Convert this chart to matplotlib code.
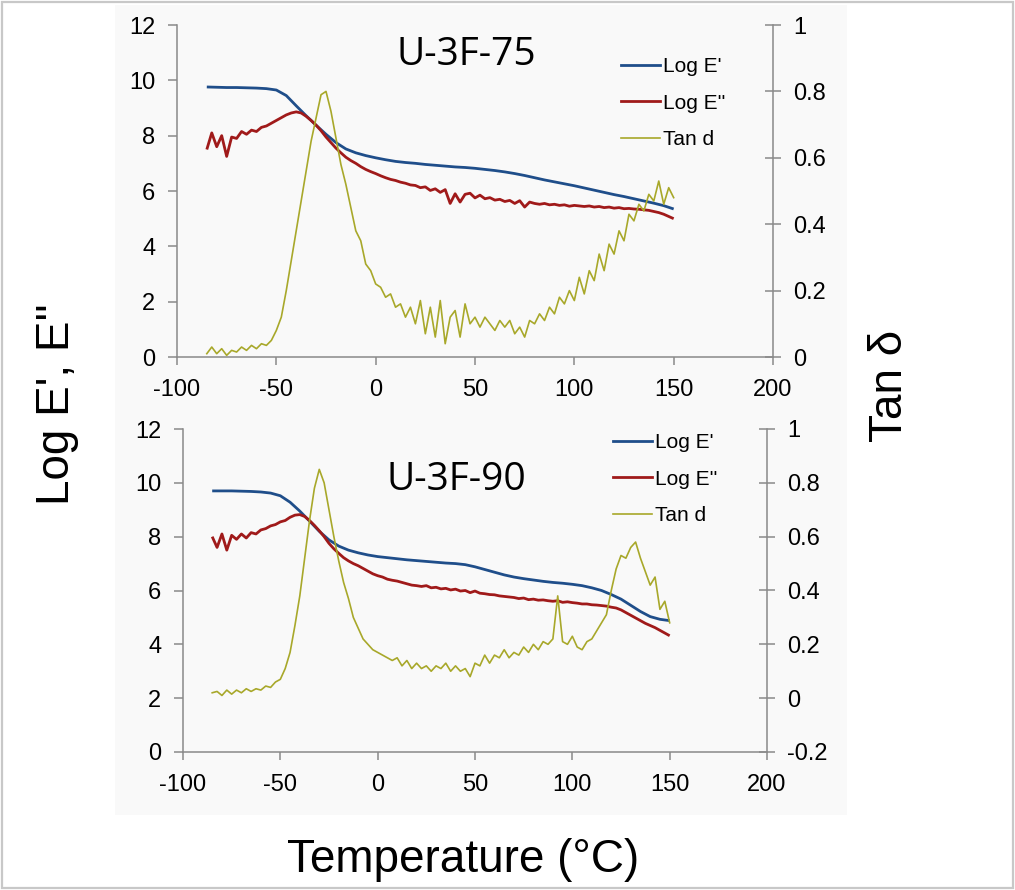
import numpy as np
import matplotlib
matplotlib.use("Agg")
import matplotlib.pyplot as plt
from matplotlib.patches import Rectangle
from matplotlib.lines import Line2D

# ---------------- data ----------------
temp_smooth = np.arange(-85, 150.1, 5.0)     # grid for smooth Log E' curves
temp_fine = np.arange(-85, 150.1, 2.5)       # grid for noisy curves

top_title = "U-3F-75"
bottom_title = "U-3F-90"
series_labels = ["Log E'", "Log E''", "Tan d"]

top_logE1 = [9.76, 9.75, 9.74, 9.74, 9.73, 9.72, 9.70, 9.65, 9.45, 9.08,
             8.72, 8.38, 8.05, 7.75, 7.52, 7.38, 7.28, 7.20, 7.13, 7.07,
             7.03, 7.00, 6.96, 6.93, 6.90, 6.87, 6.85, 6.82, 6.78, 6.74,
             6.69, 6.63, 6.56, 6.48, 6.40, 6.33, 6.26, 6.19, 6.11, 6.03,
             5.95, 5.87, 5.80, 5.72, 5.64, 5.56, 5.47, 5.35]

top_logE2 = [7.50, 8.10, 7.60, 8.00, 7.25, 7.95, 7.90, 8.15, 8.05, 8.20,
             8.15, 8.30, 8.35, 8.45, 8.55, 8.65, 8.75, 8.82, 8.86, 8.82,
             8.70, 8.55, 8.38, 8.18, 7.95, 7.75, 7.55, 7.38, 7.22, 7.10,
             7.00, 6.88, 6.78, 6.70, 6.63, 6.55, 6.48, 6.42, 6.38, 6.32,
             6.28, 6.22, 6.20, 6.12, 6.15, 6.02, 6.08, 5.95, 6.05, 5.55,
             5.90, 5.60, 5.88, 5.92, 5.75, 5.85, 5.72, 5.76, 5.67, 5.70,
             5.62, 5.66, 5.55, 5.65, 5.42, 5.60, 5.55, 5.52, 5.55, 5.50,
             5.52, 5.48, 5.50, 5.45, 5.48, 5.46, 5.44, 5.46, 5.42, 5.44,
             5.40, 5.42, 5.38, 5.40, 5.36, 5.37, 5.35, 5.34, 5.32, 5.30,
             5.26, 5.22, 5.16, 5.08, 5.00]

top_tand = [0.010, 0.030, 0.010, 0.025, 0.005, 0.020, 0.015, 0.030, 0.020, 0.035,
            0.025, 0.040, 0.035, 0.050, 0.080, 0.120, 0.200, 0.290, 0.380, 0.470,
            0.560, 0.650, 0.720, 0.790, 0.800, 0.740, 0.660, 0.580, 0.520, 0.450,
            0.380, 0.350, 0.280, 0.260, 0.220, 0.210, 0.180, 0.190, 0.150, 0.160,
            0.120, 0.150, 0.100, 0.170, 0.070, 0.150, 0.060, 0.170, 0.040, 0.120,
            0.140, 0.060, 0.160, 0.100, 0.120, 0.090, 0.120, 0.100, 0.080, 0.110,
            0.090, 0.110, 0.070, 0.090, 0.060, 0.110, 0.100, 0.130, 0.110, 0.150,
            0.130, 0.180, 0.160, 0.200, 0.170, 0.240, 0.190, 0.260, 0.230, 0.310,
            0.260, 0.340, 0.310, 0.380, 0.350, 0.430, 0.410, 0.460, 0.440, 0.490,
            0.470, 0.530, 0.460, 0.510, 0.480]

bot_logE1 = [9.70, 9.70, 9.70, 9.69, 9.68, 9.66, 9.62, 9.52, 9.28, 8.95,
             8.58, 8.20, 7.88, 7.65, 7.50, 7.40, 7.32, 7.26, 7.22, 7.18,
             7.14, 7.11, 7.08, 7.05, 7.02, 7.00, 6.96, 6.88, 6.78, 6.68,
             6.58, 6.50, 6.44, 6.39, 6.34, 6.30, 6.27, 6.23, 6.18, 6.10,
             6.00, 5.85, 5.68, 5.45, 5.22, 5.03, 4.93, 4.88]

bot_logE2 = [8.00, 7.60, 8.10, 7.50, 8.05, 7.90, 8.10, 7.95, 8.15, 8.10,
             8.25, 8.30, 8.40, 8.45, 8.55, 8.60, 8.72, 8.80, 8.82, 8.75,
             8.60, 8.42, 8.22, 8.00, 7.75, 7.55, 7.38, 7.22, 7.10, 7.00,
             6.92, 6.82, 6.72, 6.62, 6.55, 6.50, 6.42, 6.38, 6.35, 6.30,
             6.25, 6.20, 6.18, 6.15, 6.18, 6.10, 6.12, 6.06, 6.08, 6.02,
             6.05, 5.98, 6.00, 5.92, 5.98, 5.90, 5.88, 5.85, 5.84, 5.80,
             5.78, 5.76, 5.74, 5.70, 5.72, 5.66, 5.68, 5.64, 5.65, 5.62,
             5.60, 5.62, 5.56, 5.58, 5.55, 5.53, 5.50, 5.50, 5.47, 5.46,
             5.44, 5.42, 5.38, 5.35, 5.28, 5.18, 5.08, 4.98, 4.88, 4.78,
             4.70, 4.62, 4.52, 4.42, 4.32]

bot_tand = [0.020, 0.025, 0.010, 0.030, 0.015, 0.030, 0.020, 0.035, 0.025, 0.035,
            0.030, 0.045, 0.040, 0.060, 0.070, 0.110, 0.170, 0.270, 0.380, 0.520,
            0.660, 0.780, 0.850, 0.800, 0.700, 0.600, 0.510, 0.430, 0.370, 0.300,
            0.260, 0.220, 0.200, 0.180, 0.170, 0.160, 0.150, 0.140, 0.150, 0.120,
            0.140, 0.110, 0.130, 0.110, 0.120, 0.100, 0.120, 0.110, 0.130, 0.100,
            0.120, 0.100, 0.110, 0.080, 0.130, 0.120, 0.160, 0.130, 0.160, 0.150,
            0.180, 0.150, 0.170, 0.160, 0.190, 0.170, 0.200, 0.180, 0.210, 0.200,
            0.220, 0.380, 0.210, 0.200, 0.230, 0.190, 0.180, 0.210, 0.220, 0.250,
            0.280, 0.310, 0.400, 0.480, 0.530, 0.520, 0.560, 0.580, 0.520, 0.470,
            0.420, 0.450, 0.330, 0.360, 0.280]

x_ticks = [-100, -50, 0, 50, 100, 150, 200]
left_ticks = [0, 2, 4, 6, 8, 10, 12]
top_right_ticks = [0, 0.2, 0.4, 0.6, 0.8, 1.0]
top_right_labels = ["0", "0.2", "0.4", "0.6", "0.8", "1"]
bot_right_ticks = [-0.2, 0, 0.2, 0.4, 0.6, 0.8, 1.0]
bot_right_labels = ["-0.2", "0", "0.2", "0.4", "0.6", "0.8", "1"]

# ---------------- style ----------------
W, H = 1015, 890
C_BLUE = "#1F4E8A"
C_RED = "#A01A1A"
C_OLIVE = "#A8A82A"
C_SPINE = "#8A8A8A"
SANS = ["Liberation Sans", "DejaVu Sans"]

plt.rcParams["font.family"] = SANS

fig = plt.figure(figsize=(W / 100, H / 100), dpi=100)
fig.patch.set_facecolor("white")

def px(x0, y0, x1, y1):
    return [x0 / W, 1 - y1 / H, (x1 - x0) / W, (y1 - y0) / H]

# faint chart background and outer frame
fig.patches.append(Rectangle((115 / W, 1 - 815 / H), (847 - 115) / W, (815 - 5) / H,
                             transform=fig.transFigure, facecolor="#f9f9f9",
                             edgecolor="none", zorder=-10))
fig.patches.append(Rectangle((2 / W, 2 / H), (W - 4) / W, (H - 4) / H,
                             transform=fig.transFigure, facecolor="none",
                             edgecolor="#c8c8c8", linewidth=1.6, zorder=10))


def panel(rect, e1, e2, td, rticks, rlabels, rlim, title, title_xy, leg_xy):
    ax = fig.add_axes(rect)
    ax.patch.set_visible(False)
    ax2 = ax.twinx()
    ax2.patch.set_visible(False)

    ax.plot(temp_smooth, e1, color=C_BLUE, lw=2.0, zorder=3, solid_capstyle="butt")
    ax.plot(temp_fine, e2, color=C_RED, lw=2.0, zorder=3, solid_capstyle="butt")
    ax2.plot(temp_fine, td, color=C_OLIVE, lw=1.2, zorder=2)

    ax.set_xlim(-100, 200)
    ax.set_ylim(0, 12)
    ax2.set_ylim(*rlim)
    ax.set_xticks(x_ticks)
    ax.set_xticklabels([str(v) for v in x_ticks])
    ax.set_yticks(left_ticks)
    ax.set_yticklabels([str(v) for v in left_ticks])
    ax2.set_yticks(rticks)
    ax2.set_yticklabels(rlabels)

    for a in (ax, ax2):
        a.spines["top"].set_visible(False)
        for s in ("left", "right", "bottom"):
            a.spines[s].set_color(C_SPINE)
            a.spines[s].set_linewidth(1.1)
    ax.spines["right"].set_visible(False)
    ax2.spines["left"].set_visible(False)
    ax2.spines["bottom"].set_visible(False)

    ax.tick_params(axis="x", direction="out", length=6, width=1.1, color=C_SPINE,
                   labelsize=17, pad=10, labelcolor="black")
    ax.tick_params(axis="y", direction="out", length=6.5, width=1.1, color=C_SPINE,
                   labelsize=17, pad=9, labelcolor="black")
    ax2.tick_params(axis="y", direction="inout", length=11, width=1.1, color=C_SPINE,
                    labelsize=17, pad=9, labelcolor="black")

    fig.text(title_xy[0] / W, 1 - title_xy[1] / H, title, fontsize=28,
             family=["Open Sans", "DejaVu Sans"], ha="center", va="center")

    handles = [Line2D([], [], color=C_BLUE, lw=2.0),
               Line2D([], [], color=C_RED, lw=2.0),
               Line2D([], [], color=C_OLIVE, lw=1.2)]
    fig.legend(handles, series_labels, loc="upper left",
               bbox_to_anchor=(leg_xy[0] / W, 1 - leg_xy[1] / H),
               frameon=False, fontsize=15, handlelength=1.85, handletextpad=0.15,
               labelspacing=0.85, borderpad=0, borderaxespad=0)
    return ax, ax2


panel(px(177, 25, 773, 357), top_logE1, top_logE2, top_tand,
      top_right_ticks, top_right_labels, (0, 1), top_title, (466, 55), (621, 57))
panel(px(183, 429, 767, 752), bot_logE1, bot_logE2, bot_tand,
      bot_right_ticks, bot_right_labels, (-0.2, 1), bottom_title, (456, 480), (613, 433))

fig.text(57 / W, 1 - 404 / H, "Log E', E''", rotation=90, fontsize=33,
         ha="center", va="center")
fig.text(890 / W, 1 - 386 / H, "Tan \u03b4", rotation=90, fontsize=33,
         ha="center", va="center")
fig.text(463 / W, 1 - 860 / H, "Temperature (\u00b0C)", fontsize=33,
         ha="center", va="center")

fig.savefig("out.png", dpi=100)
